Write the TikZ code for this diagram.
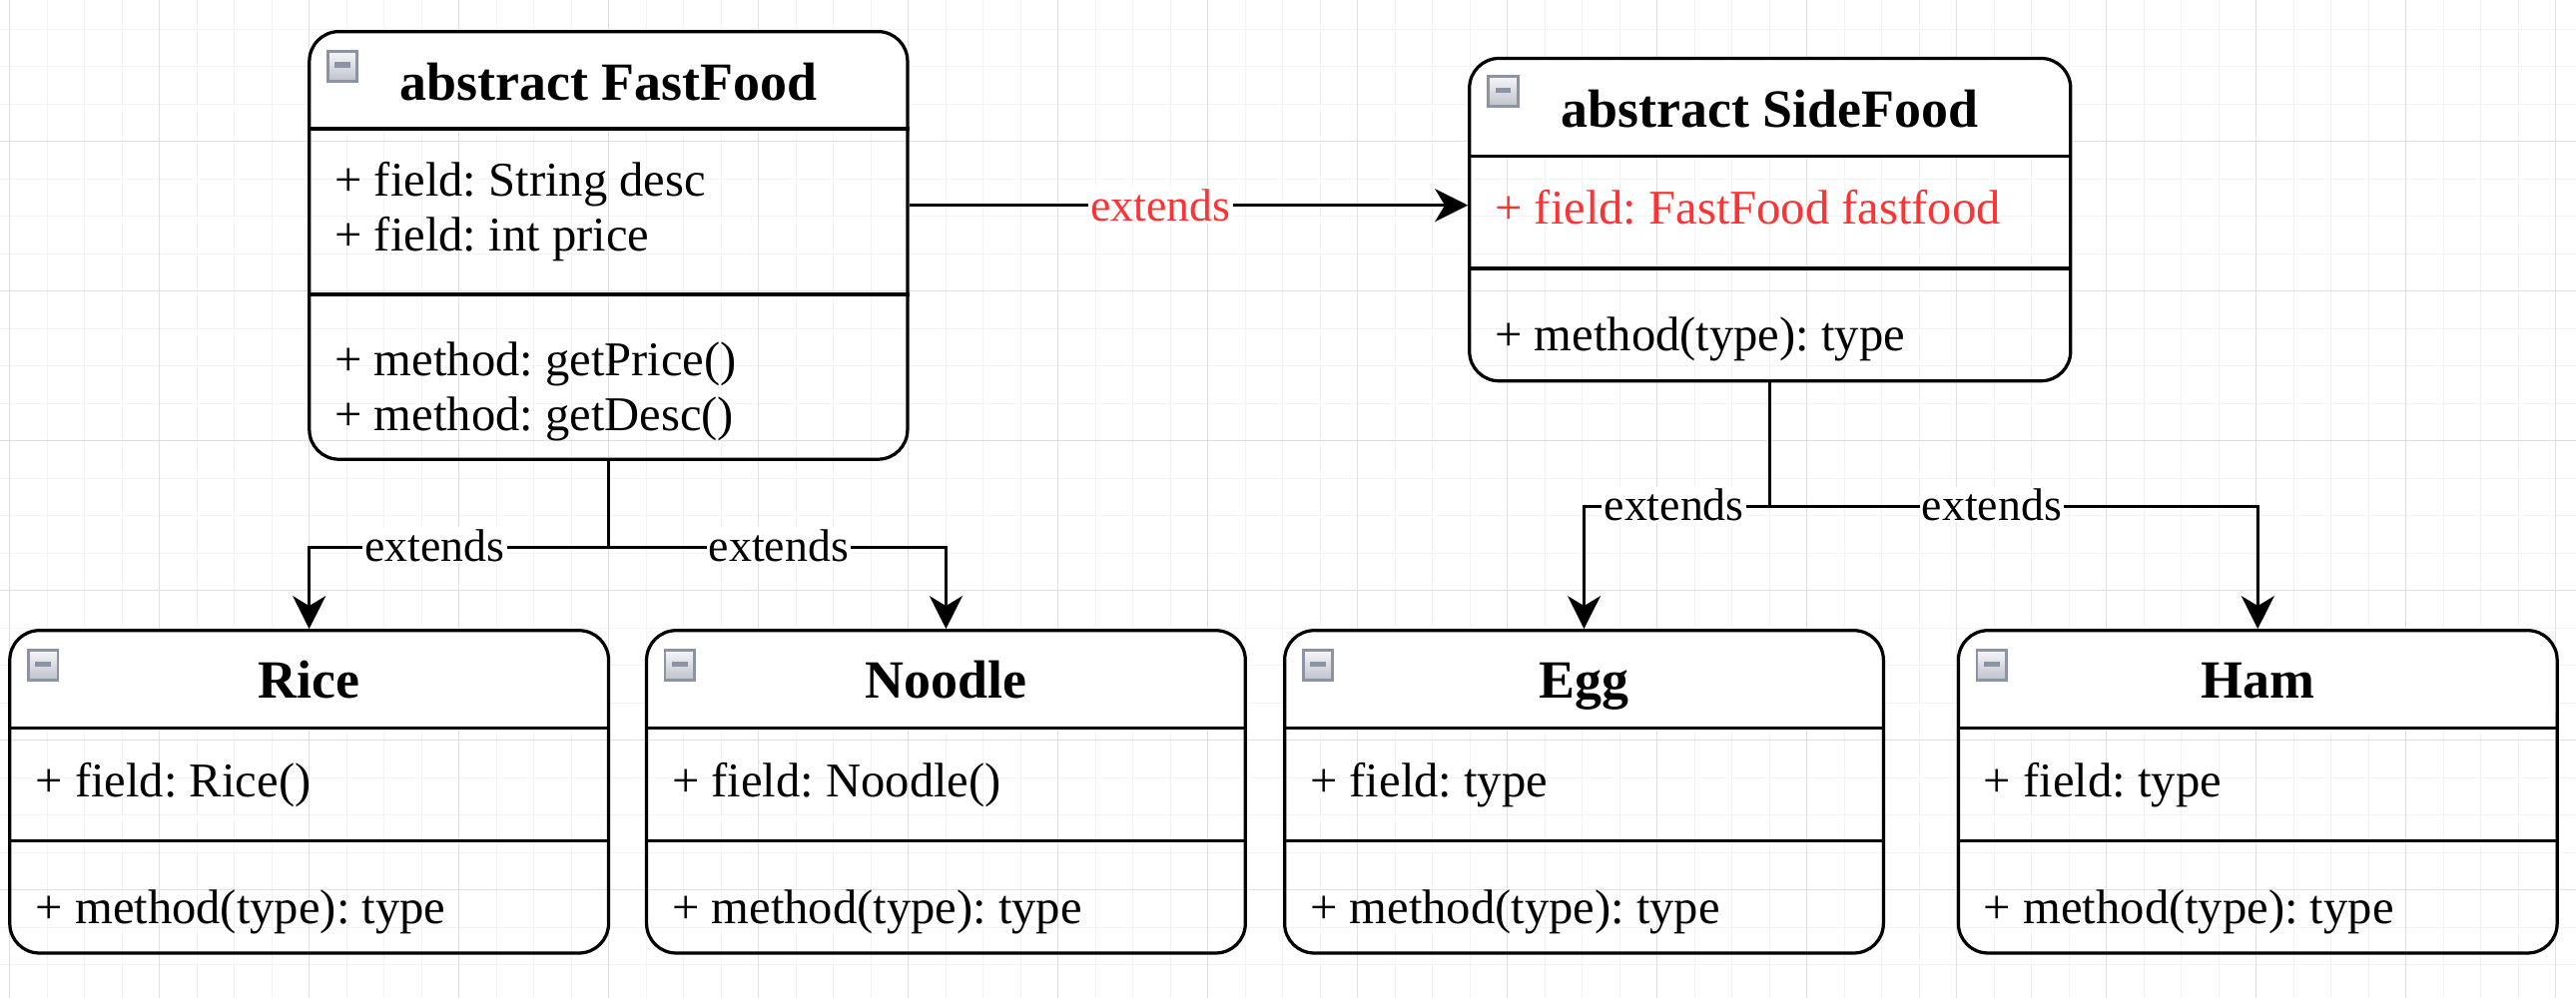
\documentclass[tikz,border=0pt]{standalone}
\usepackage{fontspec}
\setmainfont{Liberation Serif}
\usetikzlibrary{arrows.meta,backgrounds}
\definecolor{gridminor}{RGB}{243,243,243}
\definecolor{gridmajor}{RGB}{224,224,224}
\definecolor{extred}{RGB}{255,51,51}
\definecolor{foldedge}{RGB}{140,148,164}
\definecolor{foldlight}{RGB}{246,246,248}
\definecolor{folddark}{RGB}{192,194,204}
\tikzset{
  classbox/.style={draw,line width=1.4pt,rounded corners=0.45cm,inner sep=0pt,minimum width=9.11cm,minimum height=4.91cm},
  sepline/.style={line width=1.4pt},
  ctitle/.style={anchor=base,inner sep=0pt,font=\fontsize{23.3}{28}\selectfont\bfseries},
  member/.style={anchor=base west,inner sep=0pt,font=\fontsize{21}{25}\selectfont\frenchspacing},
  foldbox/.style={draw=foldedge,line width=1.2pt,top color=foldlight,bottom color=folddark,minimum size=0.45cm,inner sep=0pt,
    path picture={\draw[line width=2.2pt] ([xshift=-0.12cm,yshift=0.02cm]path picture bounding box.center) -- ([xshift=0.12cm,yshift=0.02cm]path picture bounding box.center);}},
  extarrow/.style={line width=1.3pt,-{Stealth[length=0.5cm,width=0.5cm,inset=0.15cm]}},
  extlabel/.style={fill=white,inner sep=1pt,font=\fontsize{19.8}{22}\selectfont},
}

\begin{document}
\begin{tikzpicture}[x=0.025cm,y=-0.025cm]
  \useasboundingbox (0,0) rectangle (1568,608);

  \node[classbox,minimum width=9.10cm,minimum height=6.51cm] (fastfood) at (370.35,149.45) {};
  \node[classbox,minimum width=9.145cm] (sidefood) at (1077.4,133.75) {};
  \node[classbox] (rice) at (188.2,482.15) {};
  \node[classbox] (noodle) at (575.8,482.15) {};
  \node[classbox] (egg) at (964.2,482.15) {};
  \node[classbox] (ham) at (1374.3,482.15) {};

  \begin{scope}[on background layer]
    \fill[white] (0,0) rectangle (1568,608);
    \foreach \k in {0,...,68} \draw[gridminor,line width=0.5pt] ({5.9+22.79*\k},0) -- ++(0,608);
    \foreach \k in {0,...,25} \draw[gridminor,line width=0.5pt] (0,{17.69+22.79*\k}) -- ++(1568,0);
    \foreach \k in {0,...,17} \draw[gridmajor,line width=0.5pt] ({5.9+91.16*\k},0) -- ++(0,608);
    \foreach \k in {0,...,5} \draw[gridmajor,line width=0.5pt] (0,{86.1+91.16*\k}) -- ++(1568,0);
    \fill[white] (fastfood.west |- 0,78.4) [rounded corners=0.45cm] |- (fastfood.north) -| (fastfood.east |- 0,78.4) [sharp corners] -- cycle;
    \fill[white] (sidefood.west |- 0,95.2) [rounded corners=0.45cm] |- (sidefood.north) -| (sidefood.east |- 0,95.2) [sharp corners] -- cycle;
    \fill[white] (rice.west |- 0,443.3) [rounded corners=0.45cm] |- (rice.north) -| (rice.east |- 0,443.3) [sharp corners] -- cycle;
    \fill[white] (noodle.west |- 0,443.3) [rounded corners=0.45cm] |- (noodle.north) -| (noodle.east |- 0,443.3) [sharp corners] -- cycle;
    \fill[white] (egg.west |- 0,443.3) [rounded corners=0.45cm] |- (egg.north) -| (egg.east |- 0,443.3) [sharp corners] -- cycle;
    \fill[white] (ham.west |- 0,443.3) [rounded corners=0.45cm] |- (ham.north) -| (ham.east |- 0,443.3) [sharp corners] -- cycle;
  \end{scope}

  \draw[sepline] (fastfood.west |- 0,78.4) -- (fastfood.east |- 0,78.4);
  \draw[sepline] (fastfood.west |- 0,179.3) -- (fastfood.east |- 0,179.3);
  \draw[sepline] (sidefood.west |- 0,95.2) -- (sidefood.east |- 0,95.2);
  \draw[sepline] (sidefood.west |- 0,163.5) -- (sidefood.east |- 0,163.5);
  \draw[sepline] (rice.west |- 0,443.3) -- (rice.east |- 0,443.3);
  \draw[sepline] (rice.west |- 0,512.1) -- (rice.east |- 0,512.1);
  \draw[sepline] (noodle.west |- 0,443.3) -- (noodle.east |- 0,443.3);
  \draw[sepline] (noodle.west |- 0,512.1) -- (noodle.east |- 0,512.1);
  \draw[sepline] (egg.west |- 0,443.3) -- (egg.east |- 0,443.3);
  \draw[sepline] (egg.west |- 0,512.1) -- (egg.east |- 0,512.1);
  \draw[sepline] (ham.west |- 0,443.3) -- (ham.east |- 0,443.3);
  \draw[sepline] (ham.west |- 0,512.1) -- (ham.east |- 0,512.1);

  \node[foldbox] (ffold) at (208.5,40.3) {};
  \node[foldbox] (sfold) at (915,55.7) {};
  \node[foldbox] (rfold) at (26.2,405) {};
  \node[foldbox] (nfold) at (413.8,405) {};
  \node[foldbox] (efold) at (802.2,405) {};
  \node[foldbox] (hfold) at (1212.3,405) {};

  \node[ctitle] (fftitle) at (370.35,60.8) {abstract FastFood};
  \node[ctitle] (sftitle) at (1077.4,77.4) {abstract SideFood};
  \node[ctitle] (rtitle) at (188.2,425.4) {Rice};
  \node[ctitle] (ntitle) at (575.8,425.4) {Noodle};
  \node[ctitle] (etitle) at (964.2,425.4) {Egg};
  \node[ctitle] (htitle) at (1374.3,425.4) {Ham};

  \node[member] (fffield1) at (203.5,119.5) {+ field: String desc};
  \node[member] (fffield2) at (203.5,153) {+ field: int price};
  \node[member] (ffmethod1) at (203.5,228.9) {+ method: getPrice()};
  \node[member] (ffmethod2) at (203.5,262.4) {+ method: getDesc()};
  \node[member,text=extred] (sffield) at (909.7,136.7) {+ field: FastFood fastfood};
  \node[member] (sfmethod) at (909.7,213.7) {+ method(type): type};
  \node[member] (rfield) at (21.4,485.2) {+ field: Rice()};
  \node[member] (rmethod) at (21.4,562.2) {+ method(type): type};
  \node[member] (nfield) at (408.8,485.2) {+ field: Noodle()};
  \node[member] (nmethod) at (408.8,562.2) {+ method(type): type};
  \node[member] (efield) at (797.2,485.2) {+ field: type};
  \node[member] (emethod) at (797.2,562.2) {+ method(type): type};
  \node[member] (hfield) at (1207.3,485.2) {+ field: type};
  \node[member] (hmethod) at (1207.3,562.2) {+ method(type): type};

  \coordinate (ffout) at (fastfood.east |- 0,125);
  \draw[extarrow] (ffout) -- (ffout -| sidefood.west);
  \draw[extarrow] (fastfood.south) -- ++(0,52.6) -| (rice.north);
  \draw[extarrow] (fastfood.south) -- ++(0,52.6) -| (noodle.north);
  \draw[extarrow] (sidefood.south) -- ++(0,75.5) -| (egg.north);
  \draw[extarrow] (sidefood.south) -- ++(0,75.5) -| (ham.north);

  \node[extlabel,text=extred] (lblside) at (706.5,125) {extends};
  \node[extlabel] (lblrice) at (264.5,332.2) {extends};
  \node[extlabel] (lblnoodle) at (474,332.2) {extends};
  \node[extlabel] (lblegg) at (1019,307.5) {extends};
  \node[extlabel] (lblham) at (1212.4,307.5) {extends};
\end{tikzpicture}
\end{document}
